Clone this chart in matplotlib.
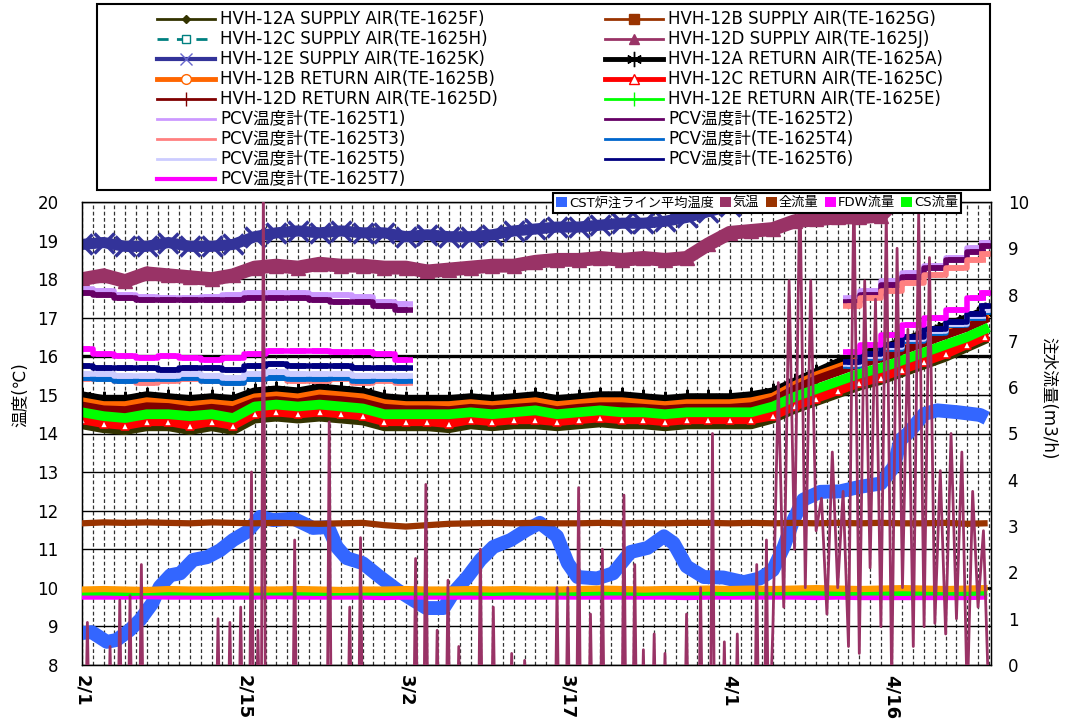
import numpy as np
import matplotlib
matplotlib.use('Agg')
import matplotlib.pyplot as plt
from matplotlib.lines import Line2D
from matplotlib.patches import Patch, Rectangle
from matplotlib.ticker import MultipleLocator

plt.rcParams['font.family'] = ['DejaVu Sans', 'Noto Sans CJK JP']

# ---------------- data (days from 2/1) ----------------
date_pos = [0, 15, 30, 45, 60, 75]
date_labels = ['2/1', '2/15', '3/2', '3/17', '4/1', '4/16']

hvh_day = np.append(np.arange(0, 83, 2), 83.6)

sup_12a = [14.2,14.1,14.05,14.15,14.15,14.05,14.15,14.05,14.35,14.4,14.35,14.4,14.35,14.3,14.15,14.15,
           14.15,14.1,14.2,14.15,14.2,14.2,14.15,14.2,14.25,14.2,14.2,14.15,14.2,14.2,14.2,14.2,
           14.35,14.6,14.8,15.0,15.2,15.35,15.55,15.75,15.95,16.2,16.4]
sup_12b = [14.45,14.35,14.3,14.4,14.4,14.35,14.4,14.3,14.6,14.65,14.6,14.65,14.6,14.55,14.4,14.4,
           14.4,14.4,14.45,14.4,14.45,14.5,14.4,14.45,14.5,14.45,14.45,14.4,14.45,14.45,14.45,14.45,
           14.6,14.85,15.05,15.25,15.45,15.6,15.8,16.0,16.2,16.4,16.6]
sup_12d = [18.0,18.1,17.95,18.15,18.1,18.05,18.0,18.1,18.3,18.35,18.3,18.4,18.35,18.35,18.3,18.3,
           18.2,18.25,18.3,18.35,18.35,18.45,18.5,18.5,18.55,18.5,18.55,18.5,18.55,18.9,19.2,19.25,
           19.3,19.5,19.55,19.6,19.6,19.65,20.2,20.4,20.5,20.6,20.7]
sup_12e = [18.9,18.95,18.85,18.85,18.95,18.85,18.85,18.9,19.1,19.2,19.25,19.2,19.25,19.2,19.2,19.1,
           19.15,19.1,19.1,19.15,19.25,19.3,19.35,19.35,19.4,19.45,19.45,19.5,19.6,19.75,19.9,20.1,
           20.3,20.4,20.5,20.6,20.7,20.8,20.9,21.0,21.1,21.2,21.3]
ret_12a = [14.95,14.85,14.85,14.95,14.9,14.85,14.9,14.85,15.05,15.1,15.05,15.15,15.1,15.05,14.9,14.85,
           14.85,14.85,14.9,14.85,14.9,14.95,14.85,14.9,14.95,14.95,14.9,14.85,14.9,14.9,14.9,14.95,
           15.05,15.3,15.55,15.8,16.0,16.15,16.35,16.55,16.75,16.95,17.15]
ret_12b = [14.83,14.73,14.73,14.83,14.78,14.73,14.78,14.73,14.93,14.98,14.93,15.03,14.98,14.93,14.78,14.73,
           14.73,14.73,14.78,14.73,14.78,14.83,14.73,14.78,14.83,14.83,14.78,14.73,14.78,14.78,14.78,14.83,
           14.95,15.25,15.5,15.7,15.9,16.05,16.25,16.45,16.65,16.85,17.05]
ret_12c = [14.35,14.25,14.2,14.3,14.3,14.2,14.3,14.2,14.5,14.55,14.5,14.55,14.5,14.45,14.3,14.3,
           14.3,14.25,14.35,14.3,14.35,14.35,14.3,14.35,14.4,14.35,14.35,14.3,14.35,14.35,14.35,14.35,
           14.45,14.7,14.9,15.1,15.3,15.45,15.65,15.85,16.05,16.3,16.5]
ret_12d = [14.72,14.62,14.6,14.7,14.68,14.6,14.66,14.6,14.82,14.86,14.8,14.9,14.86,14.8,14.66,14.62,
           14.62,14.6,14.66,14.62,14.66,14.7,14.6,14.66,14.7,14.7,14.66,14.62,14.66,14.66,14.66,14.7,
           14.85,15.15,15.4,15.6,15.8,15.95,16.15,16.35,16.55,16.75,16.95]
ret_12e = [14.55,14.45,14.4,14.5,14.5,14.45,14.5,14.4,14.7,14.75,14.7,14.75,14.7,14.65,14.5,14.5,
           14.5,14.5,14.55,14.5,14.55,14.6,14.5,14.55,14.6,14.55,14.55,14.5,14.55,14.55,14.55,14.55,
           14.7,14.95,15.15,15.35,15.55,15.7,15.9,16.1,16.3,16.5,16.7]

# PCV gauges: no data between 3/2 and 4/12 (nan marks the gap)
nan = np.nan
pcv_day = [0,2,4,6,8,10,12,14,16,18,20,22,24,26,28,29.9, 30.0, 71.1, 71.2,73,75,77,79,81,83,83.8]
pcv_t1 = [17.75,17.7,17.6,17.55,17.5,17.5,17.55,17.6,17.65,17.65,17.65,17.6,17.6,17.55,17.4,17.35, nan, nan,
          17.5,17.7,17.95,18.15,18.35,18.55,18.8,18.95]
pcv_t2 = [17.65,17.6,17.5,17.45,17.45,17.45,17.45,17.45,17.5,17.5,17.5,17.45,17.4,17.4,17.3,17.2, nan, nan,
          17.4,17.6,17.85,18.05,18.3,18.5,18.7,18.85]
pcv_t3 = [15.4,15.45,15.35,15.3,15.35,15.4,15.35,15.3,15.4,15.45,15.35,15.35,15.4,15.3,15.35,15.3, nan, nan,
          17.3,17.5,17.7,17.9,18.1,18.3,18.5,18.65]
pcv_t4 = [15.45,15.4,15.35,15.4,15.4,15.45,15.35,15.3,15.4,15.45,15.4,15.4,15.45,15.35,15.4,15.35, nan, nan,
          15.75,15.95,16.2,16.4,16.6,16.8,17.0,17.15]
pcv_t5 = [15.55,15.55,15.5,15.5,15.5,15.55,15.5,15.45,15.55,15.6,15.55,15.55,15.55,15.5,15.5,15.5, nan, nan,
          15.8,16.0,16.25,16.45,16.65,16.85,17.05,17.2]
pcv_t6 = [15.75,15.7,15.7,15.7,15.65,15.7,15.7,15.65,15.75,15.8,15.75,15.75,15.75,15.7,15.7,15.7, nan, nan,
          15.85,16.05,16.3,16.5,16.7,16.9,17.1,17.3]
pcv_t7 = [16.2,16.05,16.0,15.95,16.0,15.95,15.9,15.95,16.05,16.15,16.15,16.15,16.1,16.1,16.05,15.9, nan, nan,
          16.1,16.3,16.55,16.8,17.0,17.2,17.5,17.65]

# right axis series
cst_day = [0,0.9,2.3,3.2,4.4,5.4,6.5,7.2,8.2,9.1,10.3,11.6,12.8,14,15.3,16.5,17.7,19.6,21.4,22.8,23.6,24.5,
           26,27.6,29.2,30.7,31.9,33.5,34.4,35.7,36.9,38.1,39.7,41.2,42.4,44,45,45.9,47.7,49.2,50.8,52.4,
           53.9,54.8,56,57.6,59.4,61.3,62.8,64,65,65.9,66.8,68.4,70.2,72.1,74,75.2,75.8,76.5,78,79.2,81.1,
           83.2,83.8]
cst_temp = [0.69,0.71,0.5,0.54,0.75,0.98,1.33,1.69,1.94,1.98,2.27,2.33,2.48,2.7,2.88,3.2,3.13,3.16,2.96,2.98,
            2.55,2.31,2.2,1.9,1.62,1.4,1.23,1.23,1.56,1.9,2.27,2.55,2.7,2.92,3.07,2.78,2.2,1.9,1.87,1.98,
            2.44,2.53,2.78,2.63,2.13,1.9,1.89,1.79,1.87,2.05,2.55,3.13,3.57,3.74,3.75,3.85,3.92,4.28,4.86,
            5.0,5.42,5.5,5.46,5.4,5.33]

air_peak_day = [0.5,2.6,3.5,4.45,5.5,12.6,13.7,14.7,15.7,16.3,16.8,19.7,22.9,24.8,25.8,30.9,31.85,32.9,
                33.9,34.9,36.9,38.1,39.8,41.0,44.0,45.0,46.0,47.1,48.2,50.2,51.2,52.0,53.0,54.0,56.0,
                57.3,58.4,59.5,60.7,62.5,63.4]
air_peak_val = [0.92,0.4,1.4,1.5,2.17,1.0,0.92,1.25,4.17,0.75,10.5,2.7,5.25,1.25,2.75,2.3,3.9,0.75,
                1.83,0.4,2.5,1.25,0.25,0.1,1.67,1.67,3.83,1.1,2.5,3.67,2.17,0.33,0.67,0.25,1.1,
                1.67,5.0,0.5,0.67,2.17,2.7]
air_night = -2.0
air_apr_day = np.arange(64, 84.01, 0.5)
air_apr_val = [0.83,6.1,1.25,8.3,2.5,10.4,1.67,8.3,2.9,3.6,1.1,4.6,1.67,3.75,0.4,10.4,0.25,8.3,2.1,7.9,
               0.83,9.75,-0.4,9.0,1.67,7.25,0.4,9.75,0.83,8.8,0.9,4.2,0.67,5.0,1.0,4.6,-0.8,3.75,1.25,2.9,-0.8]

flow_total = [3.06,3.08,3.07,3.08,3.07,3.06,3.08,3.07,3.06,3.07,3.06,3.05,3.06,3.07,3.02,2.99,3.02,3.05,
              3.06,3.07,3.06,3.07,3.06,3.06,3.07,3.06,3.07,3.06,3.07,3.07,3.06,3.07,3.06,3.07,3.06,3.07,
              3.06,3.07,3.06,3.06,3.07,3.05,3.06]
flow_orange = [1.63,1.64,1.63,1.62,1.64,1.63,1.63,1.64,1.63,1.63,1.64,1.63,1.62,1.63,1.63,1.64,1.63,1.63,
               1.64,1.63,1.64,1.63,1.63,1.64,1.65,1.64,1.63,1.64,1.64,1.65,1.64,1.65,1.64,1.65,1.66,1.65,
               1.64,1.65,1.66,1.65,1.64,1.65,1.66]
flow_cs = [1.56,1.56,1.55,1.56,1.56,1.56,1.55,1.56,1.56,1.56,1.56,1.55,1.56,1.56,1.55,1.56,1.56,1.56,
           1.56,1.55,1.56,1.56,1.56,1.55,1.56,1.56,1.55,1.56,1.56,1.56,1.55,1.56,1.56,1.56,1.56,1.55,
           1.56,1.56,1.55,1.56,1.56,1.55,1.56]
flow_fdw = [1.47,1.47,1.47,1.48,1.47,1.47,1.47,1.47,1.47,1.48,1.47,1.47,1.47,1.47,1.46,1.47,1.47,1.47,
            1.47,1.47,1.47,1.47,1.47,1.47,1.47,1.47,1.47,1.47,1.46,1.47,1.47,1.47,1.47,1.47,1.46,1.47,
            1.46,1.46,1.46,1.46,1.46,1.46,1.47]

# ---------------- figure ----------------
W, H = 1066, 723
def fx(x):
    return x / W
def fy(y):
    return 1 - y / H

fig = plt.figure(figsize=(W / 100, H / 100), dpi=100)
ax = fig.add_axes([fx(82), fy(665), fx(991) - fx(82), fy(202) - fy(665)])
ax.set_xlim(0, 84.2)
ax.set_ylim(8, 20)
ax.set_axisbelow(True)
ax.yaxis.set_major_locator(MultipleLocator(1))
ax.set_xticks(date_pos)
ax.set_xticklabels(date_labels, rotation=-90, fontsize=13, fontweight='bold', va='top', ha='center')
ax.xaxis.set_minor_locator(MultipleLocator(1))
ax.grid(axis='y', color='black', lw=1)
ax.grid(axis='x', which='both', color='#333333', lw=0.9, ls=(0, (3, 2)))
ax.axhline(16, color='black', lw=2.4, zorder=0.5)
ax.axhline(10, color='black', lw=2.0, zorder=0.5)
ax.tick_params(axis='y', length=0, pad=17, labelsize=12)
ax.tick_params(axis='x', which='both', length=0, pad=7)
for s in ax.spines.values():
    s.set_linewidth(1)

# primary series (drawn in Excel order)
ax.plot(hvh_day, sup_12a, color='#333300', lw=5)
ax.plot(hvh_day, sup_12b, color='#993300', lw=5)
ax.plot(hvh_day, sup_12d, color='#993366', lw=10, marker='^', ms=10)
ax.plot(hvh_day, sup_12e, color='#333399', lw=8, marker='x', ms=14, mew=2.5)
ax.plot(hvh_day, ret_12a, color='black', lw=8, marker=(6, 2, 0), ms=14, mew=1.5)
ax.plot(hvh_day, ret_12b, color='#FF6600', lw=6)
ax.plot(hvh_day, ret_12c, color='#FF0000', lw=6, marker='^', ms=6, mfc='white', mec='#FF0000', mew=1.2)
ax.plot(hvh_day, ret_12d, color='#800000', lw=6)
ax.plot(hvh_day, ret_12e, color='#00FF00', lw=7)
pcv_series = [(pcv_t1, '#CC99FF'), (pcv_t2, '#660066'), (pcv_t3, '#FF8080'), (pcv_t4, '#0066CC'),
              (pcv_t5, '#CCCCFF'), (pcv_t6, '#000080'), (pcv_t7, '#FF00FF')]
for vals, c in pcv_series:
    ax.plot(pcv_day, vals, color=c, lw=4, drawstyle='steps-mid', marker='_', ms=12, mew=4)

# secondary axis
ax2 = ax.twinx()
ax2.set_ylim(0, 10)
ax2.yaxis.set_major_locator(MultipleLocator(1))
ax2.tick_params(axis='y', length=0, pad=12, labelsize=12)

air_x, air_y = [], []
for d, v in zip(air_peak_day, air_peak_val):
    air_x += [d - 0.2, d, d + 0.2]
    air_y += [air_night, v, air_night]
air_x += list(air_apr_day)
air_y += air_apr_val

ax2.plot(cst_day, cst_temp, color='#3366FF', lw=10, solid_capstyle='butt', zorder=2)
ax2.plot(hvh_day, flow_total, color='#993300', lw=4.5, zorder=3)
ax2.plot(hvh_day, flow_fdw, color='#FF00FF', lw=4, zorder=3)
ax2.plot(hvh_day, flow_cs, color='#00FF00', lw=4, zorder=3)
ax2.plot(hvh_day, flow_orange, color='#FF9900', lw=4.5, zorder=3)
ax2.plot(air_x, air_y, color='#993366', lw=2, zorder=4)

fig.text(fx(20), fy(395), '温度(℃)', rotation=90, ha='center', va='center', fontsize=12)
fig.text(fx(1048), fy(398), '注水流量(m3/h)', rotation=-90, ha='center', va='center', fontsize=12)

# ---------------- top legend (drawn by hand) ----------------
fig.add_artist(Rectangle((fx(97), fy(190)), fx(990) - fx(97), fy(4) - fy(190),
                         transform=fig.transFigure, fill=True, facecolor='white', edgecolor='black', lw=1.5))

left_col = [
    ('HVH-12A SUPPLY AIR(TE-1625F)', dict(color='#333300', lw=2, marker='D', ms=4)),
    ('HVH-12C SUPPLY AIR(TE-1625H)', dict(color='#008080', lw=2, ls=(0, (4, 3)), marker='s', ms=6, mfc='white')),
    ('HVH-12E SUPPLY AIR(TE-1625K)', dict(color='#333399', lw=3, marker='x', ms=9, mec='#6666CC', mew=1)),
    ('HVH-12B RETURN AIR(TE-1625B)', dict(color='#FF6600', lw=3.5, marker='o', ms=7, mfc='white')),
    ('HVH-12D RETURN AIR(TE-1625D)', dict(color='#800000', lw=2, marker='|', ms=10)),
    ('PCV温度計(TE-1625T1)', dict(color='#CC99FF', lw=2)),
    ('PCV温度計(TE-1625T3)', dict(color='#FF8080', lw=2)),
    ('PCV温度計(TE-1625T5)', dict(color='#CCCCFF', lw=2)),
    ('PCV温度計(TE-1625T7)', dict(color='#FF00FF', lw=3)),
]
right_col = [
    ('HVH-12B SUPPLY AIR(TE-1625G)', dict(color='#993300', lw=2, marker='s', ms=7)),
    ('HVH-12D SUPPLY AIR(TE-1625J)', dict(color='#993366', lw=2, marker='^', ms=7)),
    ('HVH-12A RETURN AIR(TE-1625A)', dict(color='black', lw=3.5, marker=(6, 2, 0), ms=11, mew=1)),
    ('HVH-12C RETURN AIR(TE-1625C)', dict(color='#FF0000', lw=3.5, marker='^', ms=7, mfc='white')),
    ('HVH-12E RETURN AIR(TE-1625E)', dict(color='#00FF00', lw=2, marker='|', ms=10)),
    ('PCV温度計(TE-1625T2)', dict(color='#660066', lw=2)),
    ('PCV温度計(TE-1625T4)', dict(color='#0066CC', lw=2)),
    ('PCV温度計(TE-1625T6)', dict(color='#000080', lw=2)),
]
for col, x0 in [(left_col, 157), (right_col, 605)]:
    for i, (lab, st) in enumerate(col):
        y = 19 + 20 * i
        st = dict(st)
        mk = {k: st.pop(k) for k in list(st) if k in ('marker', 'ms', 'mfc', 'mec', 'mew')}
        fig.add_artist(Line2D([fx(x0), fx(x0 + 58)], [fy(y), fy(y)], transform=fig.transFigure, **st))
        if mk:
            mk.setdefault('mec', st['color'])
            fig.add_artist(Line2D([fx(x0 + 29)], [fy(y)], transform=fig.transFigure, ls='none',
                                  color=st['color'], **mk))
        fig.text(fx(x0 + 63), fy(y), lab, va='center', ha='left', fontsize=12)

# secondary legend
sec_labels = ['CST炉注ライン平均温度', '気温', '全流量', 'FDW流量', 'CS流量']
sec_colors = ['#3366FF', '#993366', '#993300', '#FF00FF', '#00FF00']
leg = fig.legend([Patch(facecolor=c, edgecolor='none') for c in sec_colors], sec_labels,
                 loc='upper left', bbox_to_anchor=(fx(553), fy(193)), ncol=5, fontsize=9.5,
                 frameon=True, fancybox=False, edgecolor='black', framealpha=1,
                 handlelength=0.8, handleheight=0.8, handletextpad=0.15, columnspacing=0.5,
                 borderpad=0.25, borderaxespad=0)
leg.get_frame().set_linewidth(1.5)

fig.savefig('out.png', dpi=100)
